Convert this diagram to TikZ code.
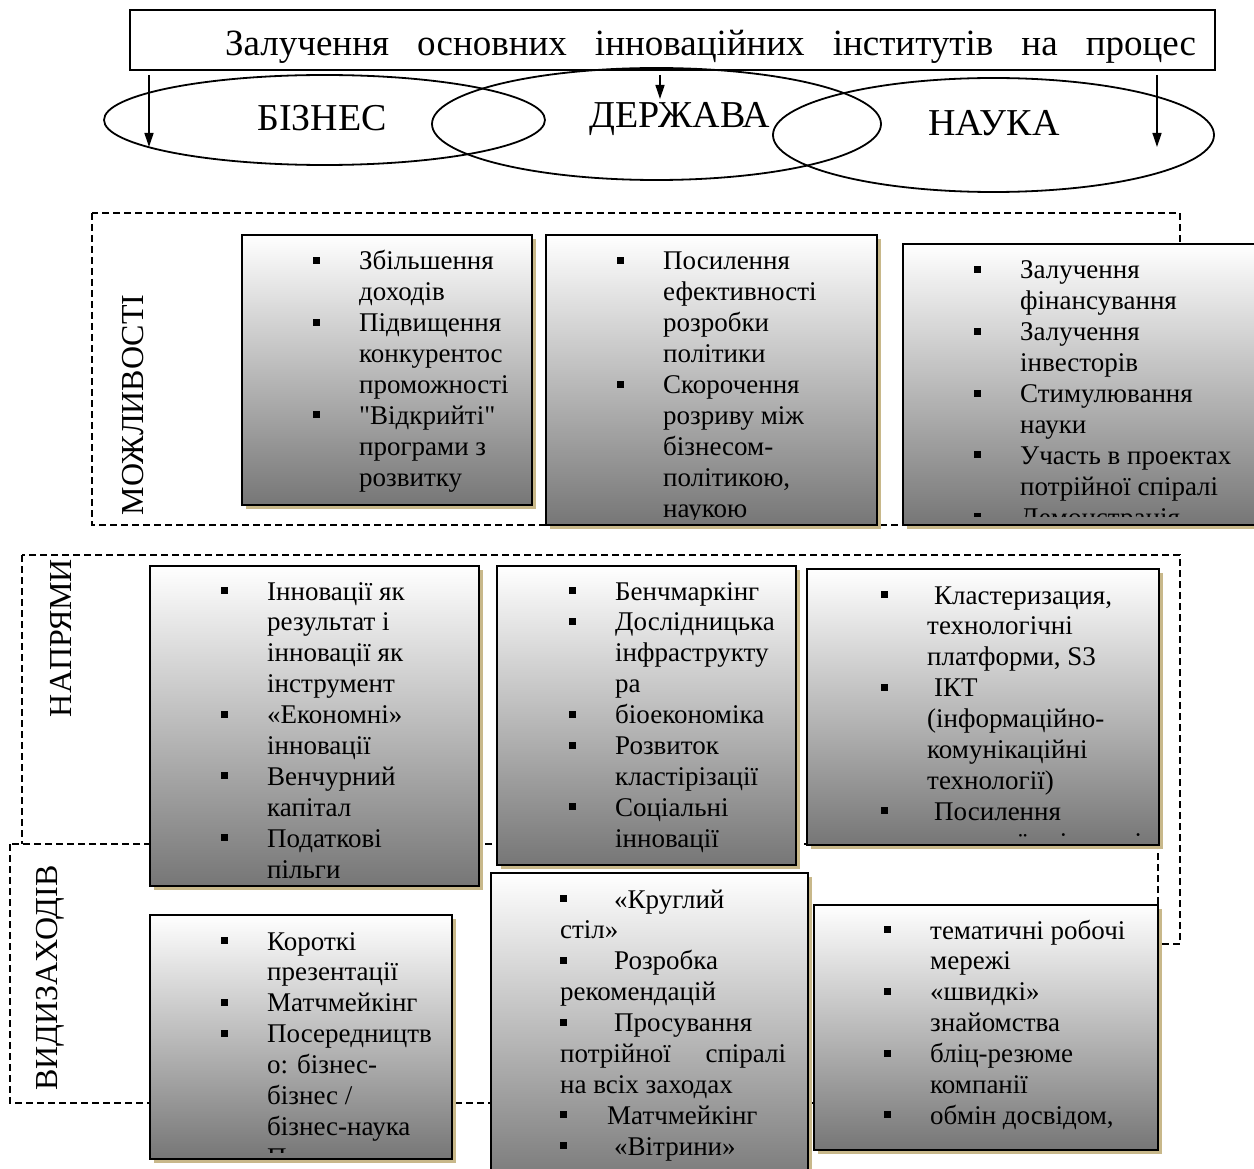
\documentclass[tikz,border=0pt]{standalone}
\usepackage{fontspec}
\setmainfont{Liberation Serif}[Ligatures=TeXOff]
\usetikzlibrary{shapes.geometric,shadows,arrows.meta,calc}
\definecolor{shtan}{RGB}{200,184,138}
\definecolor{gbot}{RGB}{118,118,118}
\newcommand\bul{\leavevmode\llap{\rule[6pt]{7pt}{7pt}\hspace{39pt}}}
\newcommand\bulr{\leavevmode\rlap{\rule[6pt]{7pt}{7pt}}}
\tikzset{
  gbox/.style={draw=black, line width=2.2pt, top color=white, bottom color=gbot,
    anchor=north west, inner sep=0pt, outer sep=0pt,
    drop shadow={shadow xshift=4pt, shadow yshift=-4pt, fill=shtan, opacity=1}},
  txt/.style={anchor=base west, inner sep=0pt, font=\fontsize{27}{30.9}\selectfont},
  dbox/.style={line width=1.4pt, dash pattern=on 7pt off 4pt},
  ell/.style={ellipse, draw, line width=1.8pt, inner sep=0pt},
  elab/.style={anchor=base, inner sep=0pt, font=\fontsize{38}{42}\selectfont},
  rot/.style={rotate=90, inner sep=0pt, font=\fontsize{32}{36}\selectfont},
  arr/.style={line width=1.3pt, -{Triangle[length=14pt,width=9pt]}}
}
\begin{document}
\begin{tikzpicture}[x=1pt,y=-1pt]
\useasboundingbox (0,0) rectangle (1254,1169);
\clip (0,0) rectangle (1254,1169);
\fill[white] (0,0) rectangle (1254,1169);

% title
\node[draw, line width=1.6pt, anchor=north west, minimum width=1085pt, minimum height=60pt, inner sep=0pt] (title) at (129,9) {};
\node[anchor=base west, inner sep=0pt, font=\fontsize{37}{42}\selectfont] (titletext) at (225,56)
  {\makebox[971pt][s]{Залучення основних інноваційних інститутів на процес}};

% ellipses
\node[ell, minimum width=441pt, minimum height=90pt] (ebiz) at (324.5,120) {};
\node[ell, minimum width=449pt, minimum height=112pt] (egov) at (656.5,124) {};
\node[ell, minimum width=441pt, minimum height=114pt] (esci) at (993.5,135) {};
\node[elab] (lbiz) at (322,131) {БІЗНЕС};
\node[elab] (lgov) at (680,128) {ДЕРЖАВА};
\node[elab] (lsci) at (994,136) {НАУКА};

% arrows
\coordinate (a1s) at (149,75); \coordinate (a1e) at (149,147);
\coordinate (a2s) at (660,75); \coordinate (a2e) at (660,99);
\coordinate (a3s) at (1157,75); \coordinate (a3e) at (1157,147);
\draw[arr] (a1s) -- (a1e);
\draw[arr] (a2s) -- (a2e);
\draw[arr] (a3s) -- (a3e);

% ---------- МОЖЛИВОСТІ ----------
\draw[dbox] (92,213) rectangle (1180,525);
\node[gbox, minimum width=290pt, minimum height=270pt] (m1) at (242,235) {};
\node[gbox, minimum width=331pt, minimum height=290pt] (m2) at (546,235) {};
\node[gbox, minimum width=367pt, minimum height=281pt] (m3) at (903,244) {};
\begin{scope}
\clip (244,237) rectangle (530,500);
\node[txt] (m1t) at (359,270) {\parbox[t]{330pt}{\bul Збільшення\\доходів\\\bul Підвищення\\конкурентос\\проможності\\\bul "Відкрийті"\\програми з\\розвитку}};
\end{scope}
\begin{scope}
\clip (548,237) rectangle (875,519);
\node[txt] (m2t) at (663,270) {\parbox[t]{330pt}{\bul Посилення\\ефективності\\розробки\\політики\\\bul Скорочення\\розриву між\\бізнесом-\\політикою,\\наукою}};
\end{scope}
\begin{scope}
\clip (905,246) rectangle (1270,516);
\node[txt] (m3t) at (1020,279) {\parbox[t]{330pt}{\bul Залучення\\фінансування\\\bul Залучення\\інвесторів\\\bul Стимулювання\\науки\\\bul Участь в проектах\\потрійної спіралі\\\bul Демонстрація}};
\end{scope}
\node[rot] (lm) at (133,405) {МОЖЛИВОСТІ};

% ---------- НАПРЯМИ / ВИДИ ЗАХОДІВ ----------
\draw[dbox] (22,555) rectangle (1180,944);
\draw[dbox, fill=white] (10,844) rectangle (1158,1103);
\node[rot] (ln) at (61,638) {НАПРЯМИ};
\node[rot] (lv) at (50,978) {ВИДИЗАХОДІВ};

\node[gbox, minimum width=329pt, minimum height=320pt] (n1) at (150,566) {};
\node[gbox, minimum width=299pt, minimum height=299pt] (n2) at (497,566) {};
\node[gbox, minimum width=352pt, minimum height=276pt] (n3) at (807,569) {};
\begin{scope}
\clip (152,568) rectangle (477,882);
\node[txt] (n1t) at (267,600) {\parbox[t]{330pt}{\bul Інновації як\\результат і\\інновації як\\інструмент\\\bul «Економні»\\інновації\\\bul Венчурний\\капітал\\\bul Податкові\\пільги}};
\end{scope}
\begin{scope}
\clip (499,568) rectangle (794,861);
\node[txt] (n2t) at (615,600) {\parbox[t]{330pt}{\bul Бенчмаркінг\\\bul Дослідницька\\інфраструкту\\ра\\\bul біоекономіка\\\bul Розвиток\\кластірізації\\\bul Соціальні\\інновації}};
\end{scope}
\begin{scope}
\clip (809,571) rectangle (1157,836);
\node[txt] (n3t) at (927,604) {\parbox[t]{330pt}{\bul\hspace{7pt}Кластеризация,\\технологічні\\платформи, S3\\\bul\hspace{7pt}ІКТ\\(інформаційно-\\комунікаційні\\технології)\\\bul\hspace{7pt}Посилення\\взаємної співпраці}};
\end{scope}

\node[gbox, minimum width=302pt, minimum height=244pt] (v1) at (150,915) {};
\node[gbox, minimum width=317pt, minimum height=317pt] (v2) at (491,873) {};
\node[gbox, minimum width=344pt, minimum height=245pt] (v3) at (814,905) {};
\begin{scope}
\clip (152,917) rectangle (450,1152);
\node[txt] (v1t) at (267,950) {\parbox[t]{330pt}{\bul Короткі\\презентації\\\bul Матчмейкінг\\\bul Посередництв\\о: бізнес-\\бізнес /\\бізнес-наука\\Партнерство}};
\end{scope}
\begin{scope}
\clip (493,875) rectangle (806,1180);
\node[txt] (v2t) at (560,908) {\parbox[t]{330pt}{\bulr\hspace{54pt}«Круглий\\стіл»\\\bulr\hspace{54pt}Розробка\\рекомендацій\\\bulr\hspace{54pt}Просування\\\makebox[226pt][s]{потрійної спіралі}\\на всіх заходах\\\bulr\hspace{47pt}Матчмейкінг\\\bulr\hspace{54pt}«Вітрини»}};
\end{scope}
\begin{scope}
\clip (816,907) rectangle (1156,1146);
\node[txt] (v3t) at (930,939) {\parbox[t]{330pt}{\bul тематичні робочі\\мережі\\\bul «швидкі»\\знайомства\\\bul бліц-резюме\\компанії\\\bul обмін досвідом,}};
\end{scope}
\end{tikzpicture}
\end{document}
